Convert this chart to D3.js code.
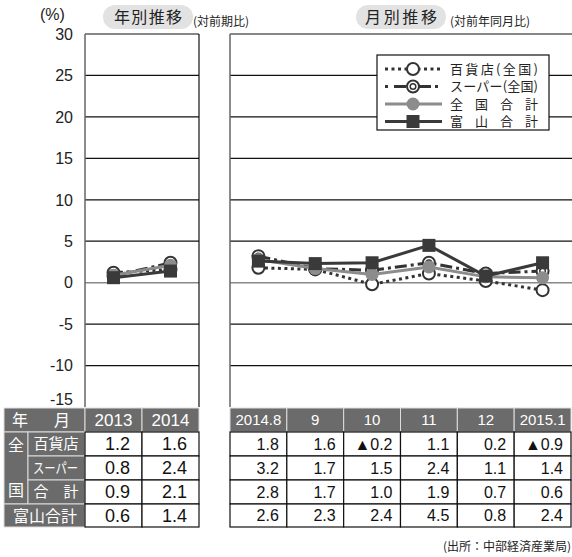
<!DOCTYPE html>
<html>
<head>
<meta charset="utf-8">
<script src="https://cdn.jsdelivr.net/npm/d3@7/dist/d3.min.js"></script>
<style>
  html, body { margin: 0; padding: 0; background: #fff; }
  svg { display: block; }
  text { font-family: "Liberation Sans", Arial, "Noto Sans CJK JP", sans-serif; }
  .jp { font-family: "Noto Sans CJK JP", "Liberation Sans", sans-serif; }
</style>
</head>
<body>
<svg id="chart" width="572" height="557"></svg>
<script>
// ---- data ----
const years = ["2013", "2014"];
const months = ["2014.8", "9", "10", "11", "12", "2015.1"];
const yTicks = [30, 25, 20, 15, 10, 5, 0, -5, -10, -15];

const seriesNames = ["百貨店(全国)", "スーパー(全国)", "全 国 合 計", "富 山 合 計"];
const rowLabels = ["百貨店", "スーパー", "合　計", "富山合計"];

const yearDept    = [1.2, 1.6];
const yearSuper   = [0.8, 2.4];
const yearTotal   = [0.9, 2.1];
const yearToyama  = [0.6, 1.4];

const monthDept   = [1.8, 1.6, -0.2, 1.1, 0.2, -0.9];
const monthSuper  = [3.2, 1.7, 1.5, 2.4, 1.1, 1.4];
const monthTotal  = [2.8, 1.7, 1.0, 1.9, 0.7, 0.6];
const monthToyama = [2.6, 2.3, 2.4, 4.5, 0.8, 2.4];

// ---- layout ----
const svg = d3.select("#chart");
const plotTop = 34, plotBottom = 407;
const y = d3.scaleLinear().domain([-15, 30]).range([plotBottom, plotTop]);
const xY = d3.scaleBand().domain(years).range([85, 199]).padding(0);
const xM = d3.scaleBand().domain(months).range([230, 571]).padding(0);

const dark = "#333", gray = "#8c8c8c", cellGray = "#6b6b6b";

const styles = [
  { key: "dept",   line: dark, width: 3, dash: "3,3.5", marker: "open" },
  { key: "super",  line: dark, width: 3, dash: "12,4,3,4", marker: "double" },
  { key: "total",  line: gray, width: 3, dash: null, marker: "gray" },
  { key: "toyama", line: "#3a3a3a", width: 3, dash: null, marker: "square" }
];

// ---- titles ----
function pill(x, w, label, len) {
  svg.append("rect").attr("x", x).attr("y", 5).attr("width", w).attr("height", 24)
    .attr("rx", 12).attr("fill", "#e2e2e2");
  svg.append("text").attr("class", "jp").attr("x", x + w / 2 - len / 2).attr("y", 23)
    .attr("textLength", len).attr("lengthAdjust", "spacing")
    .attr("font-size", 16).attr("fill", "#222").text(label);
}
pill(103, 90, "年別推移", 68);
pill(356, 90, "月別推移", 72);
svg.append("text").attr("class", "jp").attr("x", 193).attr("y", 26).attr("font-size", 12)
  .attr("fill", "#222").text("(対前期比)");
svg.append("text").attr("class", "jp").attr("x", 450).attr("y", 26).attr("font-size", 12)
  .attr("fill", "#222").text("(対前年同月比)");
svg.append("text").attr("x", 40).attr("y", 20).attr("font-size", 16).attr("fill", "#222")
  .text("(%)");

// ---- y tick labels (the lowest one sits just above the table) ----
svg.append("g").selectAll("text").data(yTicks).join("text")
  .attr("x", 73).attr("y", d => d === -15 ? y(d) - 2 : y(d))
  .attr("dy", d => d === -15 ? "0" : "0.36em")
  .attr("text-anchor", "end").attr("font-size", 16).attr("fill", "#222")
  .text(d => d);

// ---- panels ----
function panel(x0, x1, rightBorder) {
  const g = svg.append("g");
  g.selectAll("line.grid").data(yTicks.filter(d => d !== -15)).join("line")
    .attr("x1", x0).attr("x2", x1).attr("y1", d => y(d)).attr("y2", d => y(d))
    .attr("stroke", d => d === 0 ? "#888" : "#111").attr("stroke-width", d => d === 0 ? 1.5 : 1.2);
  g.append("line").attr("x1", x0).attr("x2", x0).attr("y1", plotTop).attr("y2", plotBottom)
    .attr("stroke", "#666").attr("stroke-width", 1.5);
  if (rightBorder) {
    g.append("line").attr("x1", x1).attr("x2", x1).attr("y1", plotTop).attr("y2", plotBottom)
      .attr("stroke", "#111").attr("stroke-width", 1.2);
  }
  return g;
}
panel(85, 199, true);
panel(230, 572, false);

// ---- series ----
function drawMarker(g, cx, cy, kind) {
  if (kind === "open") {
    g.append("circle").attr("cx", cx).attr("cy", cy).attr("r", 6)
      .attr("fill", "#fff").attr("stroke", dark).attr("stroke-width", 2);
  } else if (kind === "double") {
    g.append("circle").attr("cx", cx).attr("cy", cy).attr("r", 6)
      .attr("fill", "#fff").attr("stroke", dark).attr("stroke-width", 2);
    g.append("circle").attr("cx", cx).attr("cy", cy).attr("r", 2.8)
      .attr("fill", "#fff").attr("stroke", dark).attr("stroke-width", 1.5);
  } else if (kind === "gray") {
    g.append("circle").attr("cx", cx).attr("cy", cy).attr("r", 6.5).attr("fill", gray);
  } else {
    g.append("rect").attr("x", cx - 6.5).attr("y", cy - 6.5).attr("width", 13)
      .attr("height", 13).attr("fill", "#3a3a3a");
  }
}

function drawSeries(xs, cats, values, st) {
  const g = svg.append("g");
  const cx = d => xs(d) + xs.bandwidth() / 2;
  const pts = cats.map((c, i) => [cx(c), y(values[i])]);
  const path = g.append("path").attr("d", d3.line()(pts)).attr("fill", "none")
    .attr("stroke", st.line).attr("stroke-width", st.width);
  if (st.dash) path.attr("stroke-dasharray", st.dash);
  pts.forEach(p => drawMarker(g, p[0], p[1], st.marker));
}

const yearSeries = [yearDept, yearSuper, yearTotal, yearToyama];
const monthSeries = [monthDept, monthSuper, monthTotal, monthToyama];
styles.forEach((st, i) => {
  drawSeries(xY, years, yearSeries[i], st);
  drawSeries(xM, months, monthSeries[i], st);
});

// ---- legend ----
const lg = svg.append("g");
lg.append("rect").attr("x", 377).attr("y", 55).attr("width", 172).attr("height", 75)
  .attr("fill", "#fff").attr("stroke", "#111").attr("stroke-width", 1.2);
const legendY = [69, 86.5, 104, 121.5];
styles.forEach((st, i) => {
  const yy = legendY[i];
  const l = lg.append("line").attr("x1", 385).attr("x2", 442).attr("y1", yy).attr("y2", yy)
    .attr("stroke", st.line).attr("stroke-width", st.width);
  if (st.dash) l.attr("stroke-dasharray", st.key === "super" ? "3,6,12,4" : st.dash);
  drawMarker(lg, 413, yy, st.marker);
  lg.append("text").attr("class", "jp").attr("x", 450).attr("y", yy).attr("dy", "0.36em")
    .attr("font-size", 13).attr("fill", "#222")
    .attr("textLength", 88).attr("lengthAdjust", "spacing").text(seriesNames[i]);
});

// ---- tables ----
const rowY = [408, 432, 456, 480, 504, 527];
const fmt = v => v < 0 ? "▲" + Math.abs(v).toFixed(1) : v.toFixed(1);
const tg = svg.append("g");

function grayCell(x, yTop, w, h) {
  tg.append("rect").attr("x", x).attr("y", yTop).attr("width", w).attr("height", h)
    .attr("fill", cellGray).attr("stroke", "#ddd").attr("stroke-width", 1);
}
function whiteText(x, yy, t, size, anchor, len) {
  const el = tg.append("text").attr("class", "jp").attr("x", x).attr("y", yy).attr("dy", "0.36em")
    .attr("font-size", size).attr("fill", "#fff").attr("text-anchor", anchor || "middle").text(t);
  if (len) el.attr("textLength", len).attr("lengthAdjust", "spacingAndGlyphs");
  return el;
}

// left table header and row labels
grayCell(4, rowY[0], 81, rowY[1] - rowY[0]);
whiteText(20, 420, "年", 16);
whiteText(62, 420, "月", 16);
grayCell(4, rowY[1], 24, rowY[4] - rowY[1]);
whiteText(16, 445, "全", 16);
whiteText(16, 490, "国", 16);
for (let r = 0; r < 3; r++) {
  grayCell(28, rowY[r + 1], 57, rowY[r + 2] - rowY[r + 1]);
}
whiteText(56, 444, rowLabels[0], 15);
whiteText(33, 468, rowLabels[1], 14, "start", 45);
whiteText(56, 492, rowLabels[2], 15);
grayCell(4, rowY[4], 81, rowY[5] - rowY[4]);
whiteText(45, 516, rowLabels[3], 16);

function valueTable(xs, cats, series, size, pad, headSize) {
  cats.forEach(c => {
    tg.append("rect").attr("x", xs(c)).attr("y", rowY[0]).attr("width", xs.bandwidth())
      .attr("height", rowY[1] - rowY[0]).attr("fill", cellGray)
      .attr("stroke", "#ddd").attr("stroke-width", 1);
    tg.append("text").attr("x", xs(c) + xs.bandwidth() / 2).attr("y", 420).attr("dy", "0.36em")
      .attr("text-anchor", "middle").attr("font-size", headSize).attr("fill", "#fff").text(c);
  });
  series.forEach((vals, r) => {
    cats.forEach((c, i) => {
      tg.append("rect").attr("x", xs(c)).attr("y", rowY[r + 1]).attr("width", xs.bandwidth())
        .attr("height", rowY[r + 2] - rowY[r + 1]).attr("fill", "#fff")
        .attr("stroke", "#111").attr("stroke-width", 1.2);
      tg.append("text").attr("x", xs(c) + xs.bandwidth() - pad)
        .attr("y", (rowY[r + 1] + rowY[r + 2]) / 2).attr("dy", "0.36em")
        .attr("text-anchor", "end").attr("font-size", size).attr("fill", "#111")
        .text(fmt(vals[i]));
    });
  });
}
valueTable(xY, years, yearSeries, 18, 12, 17);
valueTable(xM, months, monthSeries, 16, 8, 15);

// ---- source ----
svg.append("text").attr("class", "jp").attr("x", 571).attr("y", 547).attr("dy", "0.36em")
  .attr("text-anchor", "end").attr("font-size", 12).attr("fill", "#222")
  .text("(出所：中部経済産業局)");
</script>
</body>
</html>
